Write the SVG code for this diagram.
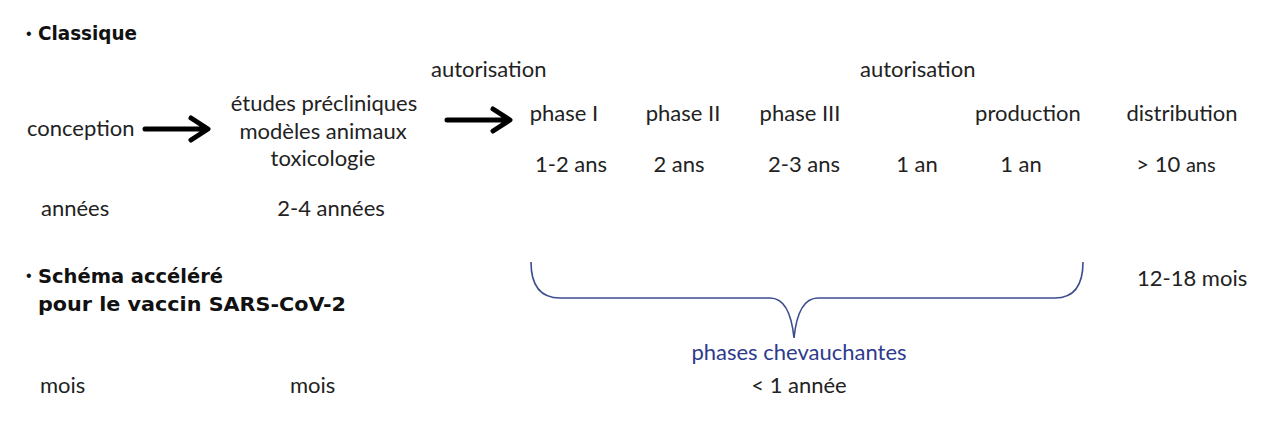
<svg xmlns="http://www.w3.org/2000/svg" width="1280" height="423" viewBox="0 0 1280 423">
<style>
.t{font-family:Lato,"Open Sans","Liberation Sans",sans-serif;font-size:22px;fill:#222}
.m{text-anchor:middle}
.h{font-family:"DejaVu Sans","Liberation Sans",sans-serif;font-weight:bold;font-size:19px;fill:#111}
.b{font-family:"Liberation Sans",sans-serif;font-size:16px;fill:#111}
.blue{fill:#2E3A8C}
.arr{fill:none;stroke:#000;stroke-width:5;stroke-linecap:round;stroke-linejoin:round}
</style>
<rect width="1280" height="423" fill="#fff"/>
<g id="classique">
<text class="b" x="26" y="39">•</text><text class="h" x="38" y="40" textLength="99" lengthAdjust="spacingAndGlyphs">Classique</text>
</g>
<g id="autorisation1"><text class="t" x="431" y="77">autorisation</text></g>
<g id="autorisation2"><text class="t" x="860" y="77">autorisation</text></g>
<g id="conception"><text class="t" x="27" y="136">conception</text><text class="t" x="41" y="216">années</text></g>
<g id="precliniques">
<text class="t m" x="324" y="111">études précliniques</text>
<text class="t m" x="323" y="139">modèles animaux</text>
<text class="t m" x="323" y="166">toxicologie</text>
<text class="t m" x="331" y="216">2-4 années</text>
</g>
<g id="phase1"><text class="t m" x="564" y="121">phase I</text><text class="t m" x="571" y="172">1-2 ans</text></g>
<g id="phase2"><text class="t m" x="683" y="121">phase II</text><text class="t m" x="679" y="172">2 ans</text></g>
<g id="phase3"><text class="t m" x="800" y="121">phase III</text><text class="t m" x="804" y="172">2-3 ans</text></g>
<g id="autorisation-duree"><text class="t m" x="917" y="172">1 an</text></g>
<g id="production"><text class="t m" x="1028" y="121">production</text><text class="t m" x="1021" y="172">1 an</text></g>
<g id="distribution"><text class="t m" x="1182" y="121">distribution</text><text class="t m" x="1176" y="172">&gt; 10 <tspan font-size="20">ans</tspan></text></g>
<g id="accelere">
<text class="b" x="26" y="281">•</text><text class="h" x="38" y="283" textLength="185" lengthAdjust="spacingAndGlyphs">Schéma accéléré</text>
<text class="h" x="38" y="311" textLength="308" lengthAdjust="spacingAndGlyphs">pour le vaccin SARS-CoV-2</text>
<text class="t" x="40" y="393">mois</text>
<text class="t" x="290" y="393">mois</text>
</g>
<g id="mois1218"><text class="t" x="1137" y="286">12-18 mois</text></g>
<g id="chevauchantes">
<text class="t m blue" x="799" y="360">phases chevauchantes</text>
<text class="t m" x="799" y="393">&lt; 1 année</text>
</g>
<g id="connectors">
<path class="arr" d="M145,129 H206 M191,118 L208,129 L191,140"/>
<path class="arr" d="M447,120 H509 M493,109 L510,120 L493,131"/>
<path d="M531,262 Q531,298 560,298 L770,298 Q790,298 794,338 Q798,298 818,298 L1055,298 Q1083,298 1083,262" fill="none" stroke="#3C4D8E" stroke-width="1.6"/>
</g>
</svg>
